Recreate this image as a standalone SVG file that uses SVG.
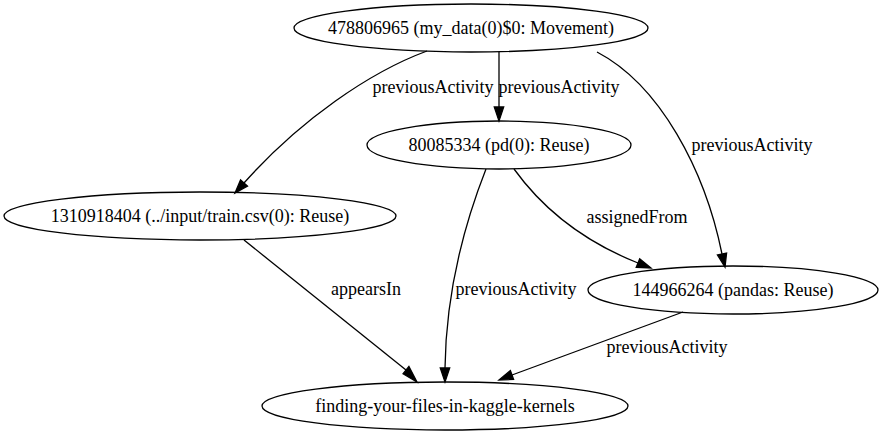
<svg xmlns="http://www.w3.org/2000/svg" width="886" height="435" viewBox="0 0 886 435">
<style>
  .node ellipse { fill: none; stroke: #000; stroke-width: 1.3; }
  text { font-family: 'Liberation Serif', 'Times New Roman', 'DejaVu Serif', serif; font-size: 18px; fill: #000; text-anchor: middle; }
  .edge path { fill: none; stroke: #000; stroke-width: 1.3; }
  .edge polygon { fill: #000; stroke: #000; stroke-width: 1.3; }
</style>
<rect width="886" height="435" fill="#fff"/>
<g id="edges">
  <g class="edge" id="e1">
    <path d="M499,52 L499,107"/>
    <polygon points="494.3,107 499,121 503.7,107"/>
    <text x="559" y="93" font-family="Liberation Serif, serif">previousActivity</text>
  </g>
  <g class="edge" id="e2">
    <path d="M427,51 C370,72 300,120 244,183"/>
    <polygon points="240.5,179.9 235,193 247.5,186.1"/>
    <text x="433" y="93" font-family="Liberation Serif, serif">previousActivity</text>
  </g>
  <g class="edge" id="e3">
    <path d="M597,52 C660,85 705,170 722,254"/>
    <polygon points="717.4,255 725,267 726.6,253"/>
    <text x="752" y="151" font-family="Liberation Serif, serif">previousActivity</text>
  </g>
  <g class="edge" id="e4">
    <path d="M486,169 C466,220 446,290 445,368"/>
    <polygon points="440.3,368 445,382 449.7,368"/>
    <text x="516" y="295" font-family="Liberation Serif, serif">previousActivity</text>
  </g>
  <g class="edge" id="e5">
    <path d="M514,169 C540,205 580,240 638,263"/>
    <polygon points="636.2,267.4 651,268 639.7,258.7"/>
    <text x="637" y="223" font-family="Liberation Serif, serif">assignedFrom</text>
  </g>
  <g class="edge" id="e6">
    <path d="M244,240 L406,370"/>
    <polygon points="403,373.7 417,382 408.9,366.4"/>
    <text x="366" y="295" font-family="Liberation Serif, serif">appearsIn</text>
  </g>
  <g class="edge" id="e7">
    <path d="M683,312 L512,375"/>
    <polygon points="510.4,370.6 499,380 513.6,379.4"/>
    <text x="667" y="353" font-family="Liberation Serif, serif">previousActivity</text>
  </g>
</g>
<g class="node" id="n478806965">
  <ellipse cx="471" cy="28" rx="177" ry="24"/>
  <text x="471" y="34" font-family="Liberation Serif, serif">478806965 (my_data(0)$0: Movement)</text>
</g>
<g class="node" id="n80085334">
  <ellipse cx="499" cy="145" rx="132" ry="24"/>
  <text x="499" y="151" font-family="Liberation Serif, serif">80085334 (pd(0): Reuse)</text>
</g>
<g class="node" id="n1310918404">
  <ellipse cx="200" cy="216" rx="196" ry="24"/>
  <text x="200" y="222" font-family="Liberation Serif, serif">1310918404 (../input/train.csv(0): Reuse)</text>
</g>
<g class="node" id="n144966264">
  <ellipse cx="733" cy="290" rx="145" ry="24"/>
  <text x="733" y="296" font-family="Liberation Serif, serif">144966264 (pandas: Reuse)</text>
</g>
<g class="node" id="nfinding">
  <ellipse cx="445" cy="406" rx="183" ry="24"/>
  <text x="445" y="412" font-family="Liberation Serif, serif">finding-your-files-in-kaggle-kernels</text>
</g>
</svg>
